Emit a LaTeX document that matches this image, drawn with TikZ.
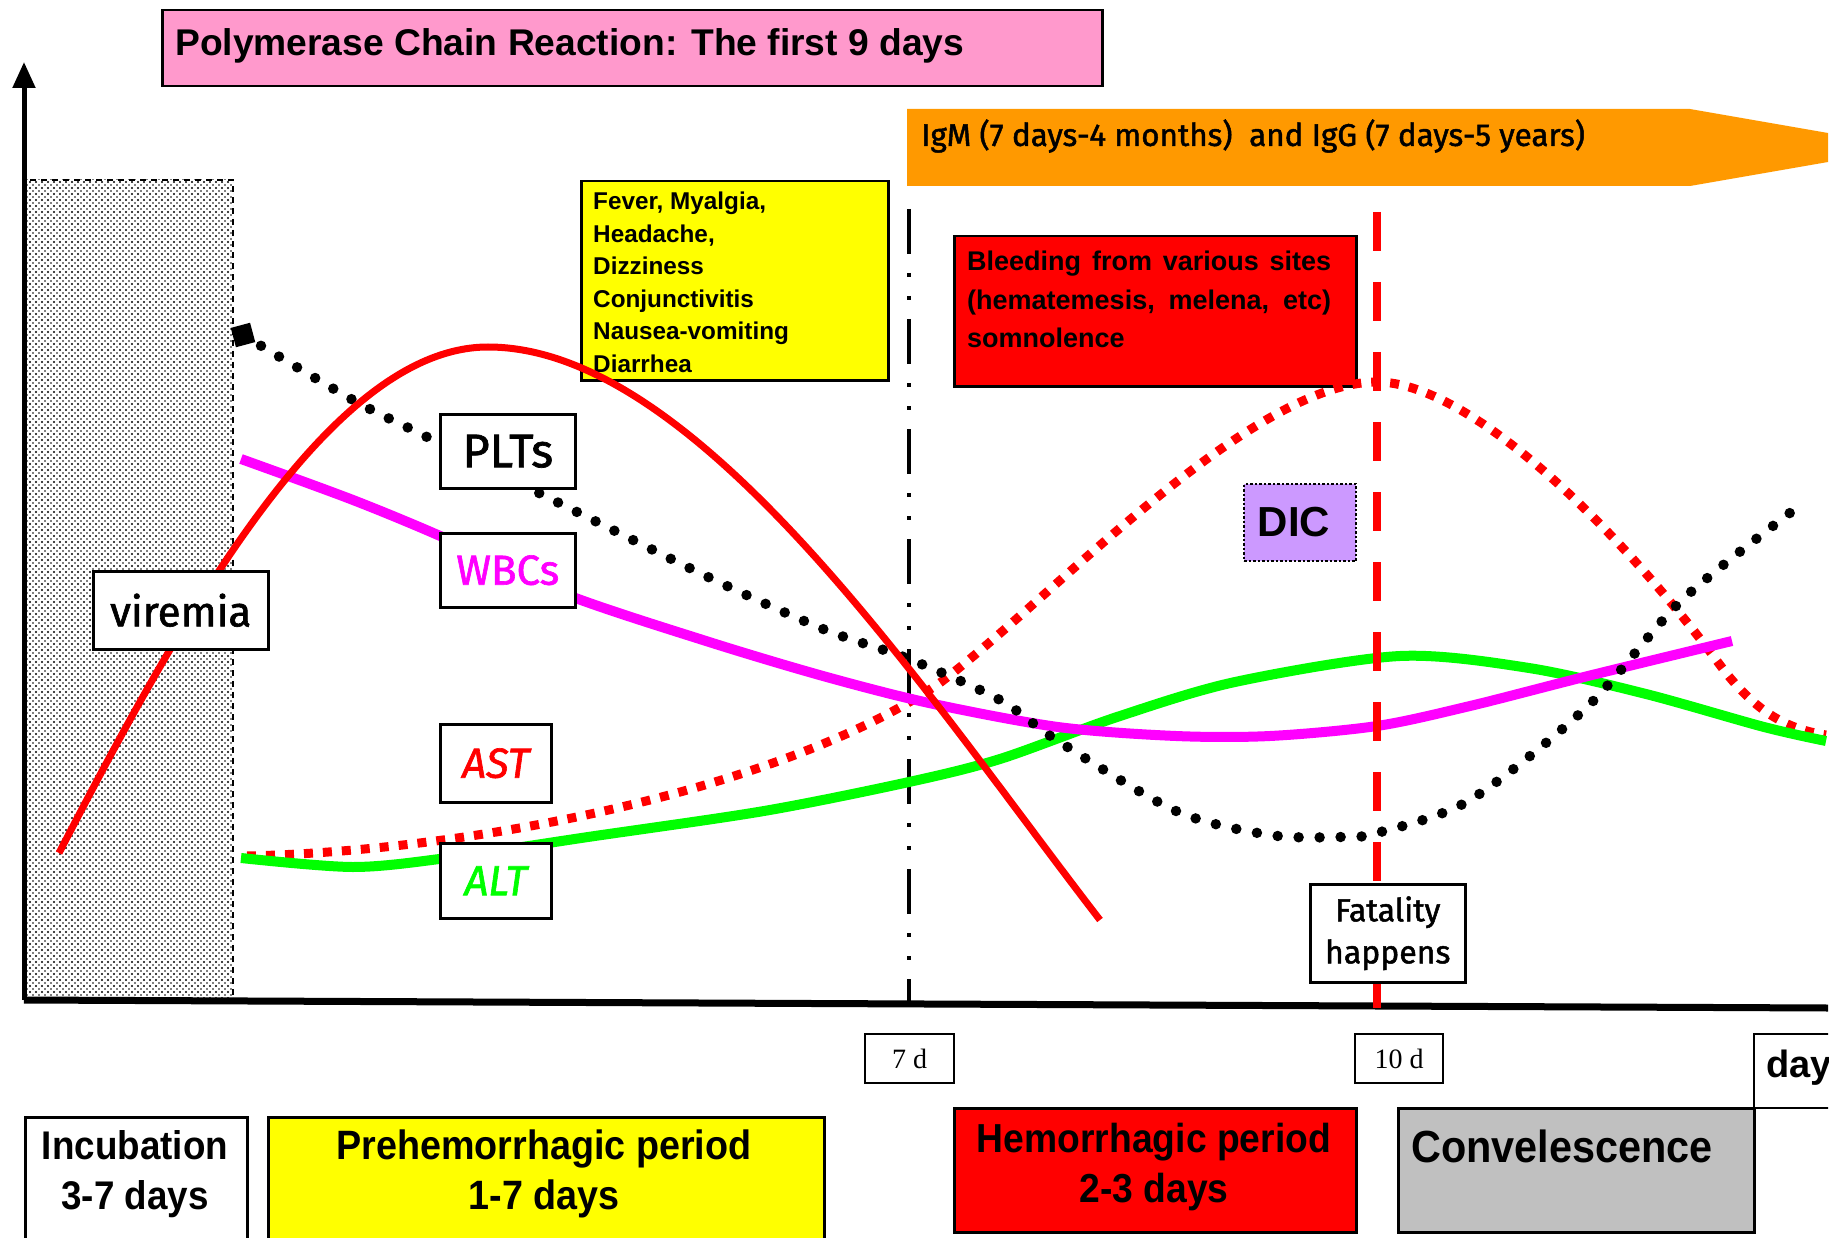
\documentclass[tikz,border=0pt]{standalone}
\usepackage{fontspec}
\setmainfont{Liberation Serif}
\newfontfamily\arialf{Liberation Sans}
\newfontfamily\narrowf[FakeStretch=0.92]{Liberation Sans}
\newfontfamily\comicf[FakeBold=1.5]{Fira Sans}
\usetikzlibrary{patterns,arrows.meta}
\pgfdeclarepatternformonly{sparsedots}{\pgfqpoint{-2pt}{-2pt}}{\pgfqpoint{8pt}{8pt}}{\pgfqpoint{6pt}{6pt}}{%
  \pgfpathcircle{\pgfqpoint{0pt}{0pt}}{1.2pt}%
  \pgfpathcircle{\pgfqpoint{3pt}{3pt}}{0.85pt}%
  \pgfusepath{fill}}
\definecolor{pinkt}{HTML}{FF99CC}
\definecolor{orng}{HTML}{FF9900}
\definecolor{lav}{HTML}{CC99FF}
\definecolor{grayb}{HTML}{C0C0C0}
\definecolor{grn}{HTML}{00FF00}
\definecolor{mag}{HTML}{FF00FF}
\definecolor{rd}{HTML}{FF0000}
\definecolor{ylw}{HTML}{FFFF00}
\begin{document}
\begin{tikzpicture}[x=1pt,y=-1pt,
  box/.style={draw=black, line width=2.5pt, inner sep=0pt, anchor=north west},
  lbl/.style={inner sep=0pt},
  arialb/.style={font=\arialf\bfseries\fontsize{#1}{#1}\selectfont},
  narrowb/.style={align=center, font=\narrowf\bfseries\fontsize{#1}{50}\selectfont},
  comic/.style={font=\comicf\fontsize{#1}{#1}\selectfont},
  curvew/.style={line width=10pt}]
\useasboundingbox (0,0) rectangle (1844,1238);
\clip (0,0) rectangle (1828,1238);

% hatched incubation zone
\draw[line width=2pt, dash pattern=on 6pt off 5pt, pattern=sparsedots, pattern color=black]
  (24,180) rectangle (233,1000);

% axes
\coordinate (origin) at (24,1000);
\coordinate (ytop) at (24,62);
\coordinate (xend) at (1828,1008);
\draw[line width=7pt] (origin) -- (xend);
\draw[line width=5pt, -{Triangle[length=26pt,width=22pt]}] (origin) -- (ytop);

% symptom boxes
\node[box, fill=ylw, minimum width=307pt, minimum height=199pt] (symp) at (580,180) {};
\node[lbl, anchor=north west, align=left, font=\arialf\bfseries\fontsize{24.3}{32.5}\selectfont] (symptxt) at (593,192)
  {Fever, Myalgia,\\Headache,\\Dizziness\\Conjunctivitis\\Nausea-vomiting\\Diarrhea};
\node[box, fill=rd, minimum width=402pt, minimum height=150pt] (bleed) at (953,235) {};
\node[lbl, anchor=north west, align=left, font=\arialf\bfseries\fontsize{27}{38.5}\selectfont] (bleedtxt) at (967,251)
  {\makebox[364pt][s]{Bleeding from various sites}\\\makebox[364pt][s]{(hematemesis, melena, etc)}\\somnolence};

% vertical markers
\coordinate (v7top) at (909,209);
\coordinate (v7bot) at (909,1002);
\coordinate (v10top) at (1377,212);
\coordinate (v10bot) at (1377,1008);
\draw[line width=4pt, dash pattern=on 45pt off 19pt on 4pt off 19pt on 4pt off 19pt] (v7top) -- (v7bot);

% AST (red dotted)
\draw[rd, line width=9pt, dash pattern=on 9pt off 10pt]
  (247,856) .. controls (500,850) and (800,780) .. (941,682)
  .. controls (1050,600) and (1250,382) .. (1377,382)
  .. controls (1470,382) and (1620,530) .. (1720,665)
  .. controls (1760,719) and (1795,730) .. (1826,735);
% ALT (green)
\draw[grn, curvew] plot[smooth] coordinates {
 (241,858) (353,867) (447,858) (588,837) (764,811) (909,782) (1000,759) (1117,717)
 (1235,682) (1400,656) (1529,668) (1646,694) (1764,727) (1826,741)};
% WBCs (magenta)
\draw[mag, curvew] plot[smooth] coordinates {
 (241,459) (353,500) (447,539) (565,594) (706,641) (823,676) (929,703) (1058,727)
 (1176,736) (1270,736) (1377,726) (1470,706) (1588,676) (1732,641)};
% PLTs (black dotted)
\node[fill=black, minimum size=20pt, inner sep=0pt, rotate=15] (pltstart) at (243,335) {};
\draw[line width=10.5pt, line cap=round, dash pattern=on 0pt off 21pt] plot[smooth] coordinates {
 (pltstart.center) (353,400) (423,435) (541,494) (706,576) (823,629) (909,659) (1000,700)
 (1058,741) (1176,811) (1270,835) (1341,837) (1377,833) (1470,800) (1588,706) (1682,600) (1799,506)};
% viremia (red solid)
\draw[rd, line width=7pt]
  (59,853) .. controls (180,620) and (330,347) .. (488,347)
  .. controls (700,347) and (930,700) .. (1100,920);

\draw[rd, line width=8pt, dash pattern=on 39pt off 31pt] (v10top) -- (v10bot);

% curve labels
\node[box, fill=white, minimum width=135pt, minimum height=74pt] (plts) at (439,413) {};
\node[lbl, comic=47] (pltstxt) at (plts.center) {PLTs};
\node[box, fill=white, minimum width=135pt, minimum height=74pt] (wbcs) at (439,532) {};
\node[lbl, comic=42, text=mag] (wbcstxt) at (wbcs.center) {WBCs};
\node[box, fill=white, minimum width=111pt, minimum height=78pt] (ast) at (439,723) {};
\node[lbl, comic=42, text=rd] (asttxt) at (ast.center) {\itshape AST};
\node[box, fill=white, minimum width=111pt, minimum height=75pt] (alt) at (439,842) {};
\node[lbl, comic=42, text=grn] (alttxt) at (alt.center) {\itshape ALT};
\node[box, fill=white, minimum width=175pt, minimum height=78pt] (vir) at (92,570) {};
\node[lbl, comic=42] (virtxt) at (vir.center) {viremia};
\node[box, fill=lav, dotted, line width=2pt, minimum width=112pt, minimum height=77pt] (dic) at (1243,483) {};
\node[lbl, arialb=42] (dictxt) at ([xshift=-6pt]dic.center) {DIC};
\node[box, fill=white, minimum width=155pt, minimum height=98pt] (fatal) at (1309,883) {};
\node[lbl, align=center, font=\comicf\fontsize{32}{42}\selectfont] (fataltxt) at (fatal.center) {Fatality\\happens};

% day markers
\node[box, fill=white, line width=2pt, minimum width=89pt, minimum height=49pt] (d7) at (864,1033) {};
\node[lbl, font=\fontsize{28}{28}\selectfont] (d7txt) at (d7.center) {7 d};
\node[box, fill=white, line width=2pt, minimum width=88pt, minimum height=49pt] (d10) at (1354,1033) {};
\node[lbl, font=\fontsize{28}{28}\selectfont] (d10txt) at (d10.center) {10 d};
\node[box, fill=white, line width=2pt, minimum width=120pt, minimum height=74pt] (dayb) at (1753,1033) {};
\node[lbl, arialb=38, anchor=west] (daytxt) at (1766,1068) {day};

% title and antibody arrow
\node[box, fill=pinkt, minimum width=940pt, minimum height=76pt] (title) at (161,9) {};
\node[lbl, arialb=37.2, anchor=west] (titletxt) at (175,46) {Polymerase Chain Reaction: The first 9 days};
\fill[orng] (907,109) -- (1690,109) -- (1828,133) -- (1828,162) -- (1690,186) -- (907,186) -- cycle;
\node[lbl, comic=31.4, anchor=west] (igtxt) at (921,136) {IgM (7 days-4 months)\ \ and IgG (7 days-5 years)};

% periods
\node[box, fill=white, minimum width=222pt, minimum height=130pt] (incub) at (24,1116) {};
\node[lbl, narrowb=40] (incubtxt) at (135,1174) {Incubation\\3-7 days};
\node[box, fill=ylw, minimum width=556pt, minimum height=130pt] (pre) at (267,1116) {};
\node[lbl, narrowb=41] (pretxt) at (544,1174) {Prehemorrhagic period\\1-7 days};
\node[box, fill=rd, minimum width=402pt, minimum height=124pt] (hem) at (953,1107) {};
\node[lbl, narrowb=40.5] (hemtxt) at (1154,1167) {Hemorrhagic period\\2-3 days};
\node[box, fill=grayb, minimum width=356pt, minimum height=124pt] (conv) at (1397,1107) {};
\node[lbl, anchor=west, font=\narrowf\bfseries\fontsize{45}{45}\selectfont] (convtxt) at (1411,1146) {Convelescence};
\end{tikzpicture}
\end{document}
